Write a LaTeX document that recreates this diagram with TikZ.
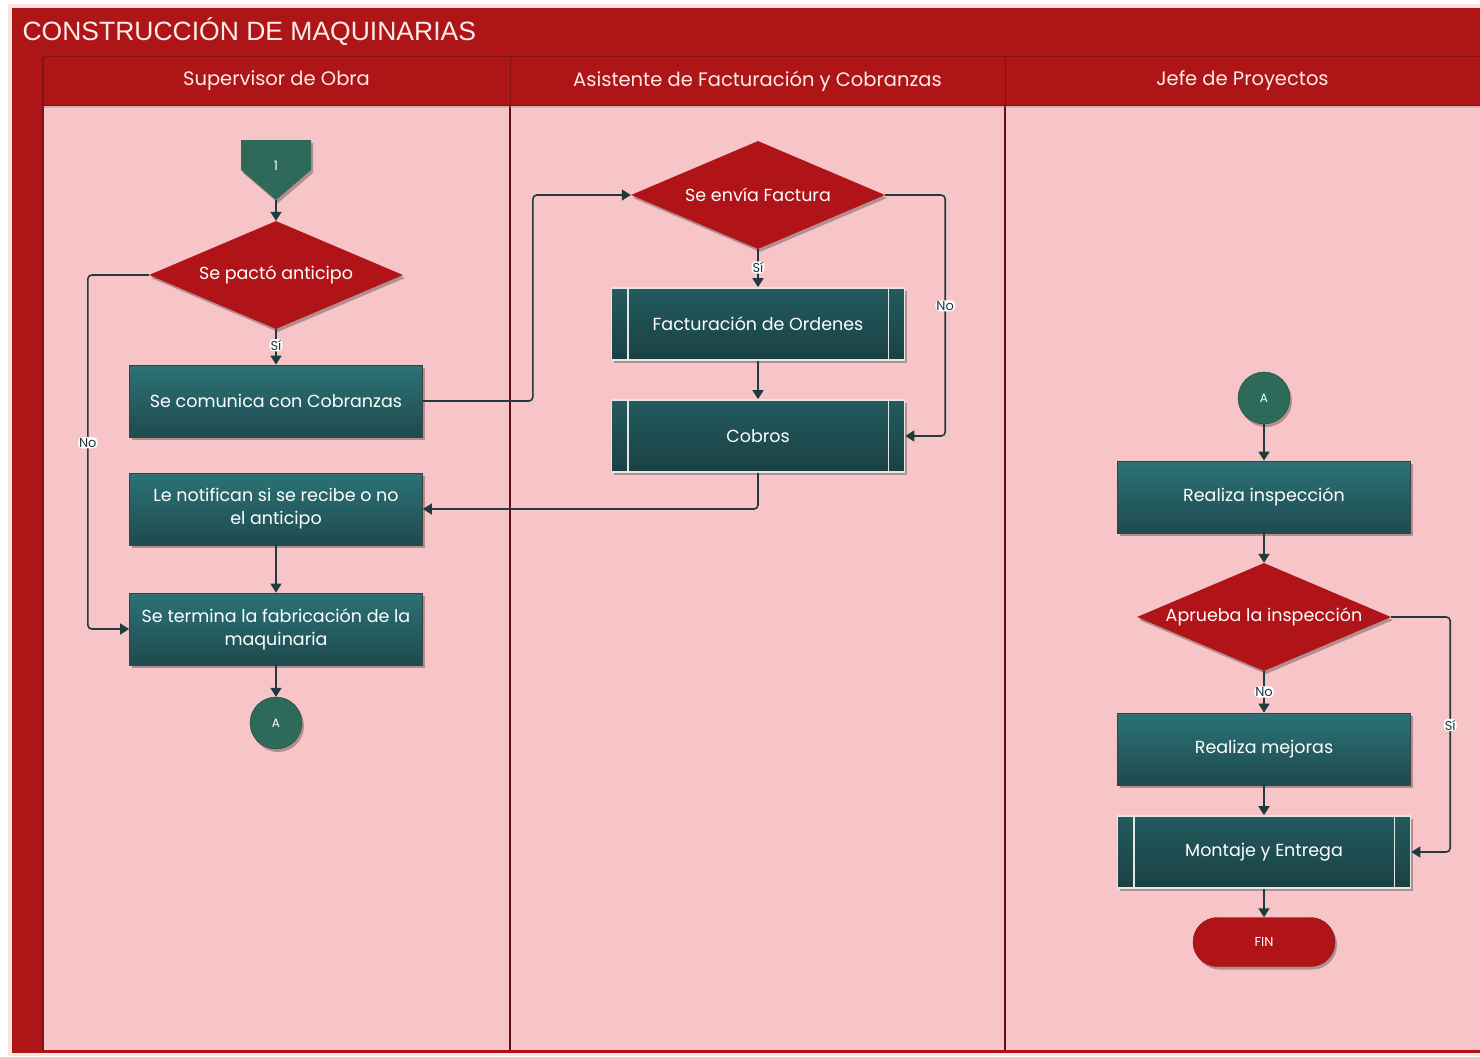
\documentclass[tikz,border=0pt]{standalone}
\usepackage{fontspec}
\setmainfont{Poppins}
\newfontfamily\titlefont{Liberation Sans}
\usetikzlibrary{shapes.geometric,shadows,arrows.meta}

\definecolor{frameRed}{HTML}{AE1517}
\definecolor{frameDark}{HTML}{7E1214}
\definecolor{lanePink}{HTML}{F7C5C7}
\definecolor{tealTop}{HTML}{2C7377}
\definecolor{tealBot}{HTML}{1E4A4E}
\definecolor{procTop}{HTML}{235B5E}
\definecolor{procBot}{HTML}{1A4144}
\definecolor{decRed}{HTML}{B01419}
\definecolor{connGreen}{HTML}{2E6A59}
\definecolor{flowLine}{HTML}{1F3B3E}

\tikzset{
  softshadow/.style={drop shadow={shadow xshift=2pt,shadow yshift=-3pt,opacity=0.28,fill=black}},
  task/.style={rectangle, minimum width=293, minimum height=72, inner sep=2pt,
    top color=tealTop, bottom color=tealBot, draw=black!75, line width=0.8pt,
    text=white, align=center, font=\fontsize{17.5}{23}\selectfont, softshadow},
  subproc/.style={task, top color=procTop, bottom color=procBot, draw=white!90!black, line width=1.6pt},
  decision/.style={diamond, aspect=2.35, minimum width=254, minimum height=108, inner sep=0pt,
    fill=decRed, text=white, font=\fontsize{17.5}{20}\selectfont, softshadow},
  linkcirc/.style={circle, minimum size=52, inner sep=0pt, fill=connGreen, draw=connGreen!70!black,
    text=white, font=\fontsize{12}{12}\selectfont, softshadow},
  terminal/.style={rectangle, rounded corners=24.5, minimum width=142, minimum height=49,
    fill=decRed, draw=decRed!75!black, text=white, font=\fontsize{13}{13}\selectfont, softshadow},
  lanehead/.style={rectangle, fill=frameRed, draw=frameDark, line width=1pt, text=white!92!red,
    font=\fontsize{19.5}{20}\selectfont, drop shadow={shadow xshift=0pt,shadow yshift=-3pt,opacity=0.3}},
  lbl/.style={fill=white, inner sep=1pt, text=flowLine, font=\fontsize{13}{13}\selectfont},
  flow/.style={draw=flowLine, line width=1.6pt, rounded corners=4pt, -{Triangle[length=9pt,width=11pt]}},
}

\begin{document}
\begin{tikzpicture}[x=1pt,y=-1pt]
\useasboundingbox (0,0) rectangle (1480,1057);
\fill[white] (0,0) rectangle (1480,1057);
\fill[lanePink!50!white] (8,4) rectangle (1480,1056);

% frame and title band
\fill[frameRed] (12,8) rectangle (1480,1053);
\node[anchor=west, text=white!92!red, font=\titlefont\fontsize{26.5}{27}\selectfont] (title) at (19,32) {CONSTRUCCIÓN DE MAQUINARIAS};

% lane bodies
\fill[lanePink] (43,105) rectangle (1480,1050);
\draw[frameDark, line width=2pt] (43,57) -- (43,1050);
\draw[frameDark!80!black, line width=2pt] (510,57) -- (510,1050);
\draw[frameDark!80!black, line width=2pt] (1005,57) -- (1005,1050);

% lane headers
\node[lanehead, minimum width=467, minimum height=48] (laneA) at (276.5,81) {Supervisor de Obra};
\node[lanehead, minimum width=495, minimum height=48] (laneB) at (757.5,81) {Asistente de Facturación y Cobranzas};
\node[lanehead, minimum width=475, minimum height=48] (laneC) at (1242.5,81) {Jefe de Proyectos};

% off-page start marker
\fill[connGreen, softshadow] (241,140) -- (311,140) -- (311,170) -- (276,200) -- (241,170) -- cycle;
\node[minimum width=70, minimum height=60, inner sep=0pt, text=white, font=\fontsize{13}{13}\selectfont] (off1) at (276,170) {\raisebox{8pt}{1}};

% Supervisor de Obra
\node[decision] (d1) at (276,275) {Se pactó anticipo};
\node[task] (t1) at (276,401) {Se comunica con Cobranzas};
\node[task] (t2) at (276,509) {Le notifican si se recibe o no\\el anticipo};
\node[task] (t3) at (276,629) {Se termina la fabricación de la\\maquinaria};
\node[linkcirc] (cA) at (276,723) {A};

% Asistente de Facturación y Cobranzas
\node[decision] (d2) at (758,195) {Se envía Factura};
\node[subproc] (p1) at (758,324) {Facturación de Ordenes};
\node[subproc] (p2) at (758,436) {Cobros};

% Jefe de Proyectos
\node[linkcirc] (cB) at (1264,398) {A};
\node[task] (t4) at (1264,497) {Realiza inspección};
\node[decision] (d3) at (1264,617) {Aprueba la inspección};
\node[task] (t5) at (1264,749) {Realiza mejoras};
\node[subproc] (p3) at (1264,852) {Montaje y Entrega};
\node[terminal] (fin) at (1264,942) {FIN};

% inner bars of the predefined-process boxes
\foreach \p in {p1,p2,p3}{
  \draw[white!90!black, line width=1.6pt] ([xshift=17pt]\p.north west) -- ([xshift=17pt]\p.south west);
  \draw[white!90!black, line width=1.6pt] ([xshift=-17pt]\p.north east) -- ([xshift=-17pt]\p.south east);
}

% connectors
\draw[flow] (off1.south) -- (d1.north);
\draw[flow] (d1.south) -- node[lbl, pos=0.45] {Sí} (t1.north);
\draw[flow] (d1.west) -- ++(-61,0) |- node[lbl, pos=0.237] {No} (t3.west);
\draw[flow] (t1.east) -- ++(110,0) |- (d2.west);
\draw[flow] (d2.south) -- node[lbl, pos=0.48] {Sí} (p1.north);
\draw[flow] (d2.east) -- ++(60,0) |- node[lbl, pos=0.23] {No} (p2.east);
\draw[flow] (p1.south) -- (p2.north);
\draw[flow] (p2.south) |- (t2.east);
\draw[flow] (t2.south) -- (t3.north);
\draw[flow] (t3.south) -- (cA.north);
\draw[flow] (cB.south) -- (t4.north);
\draw[flow] (t4.south) -- (d3.north);
\draw[flow] (d3.south) -- node[lbl, pos=0.5] {No} (t5.north);
\draw[flow] (d3.east) -- ++(59,0) |- node[lbl, pos=0.23] {Sí} (p3.east);
\draw[flow] (t5.south) -- (p3.north);
\draw[flow] (p3.south) -- (fin.north);
\end{tikzpicture}
\end{document}
